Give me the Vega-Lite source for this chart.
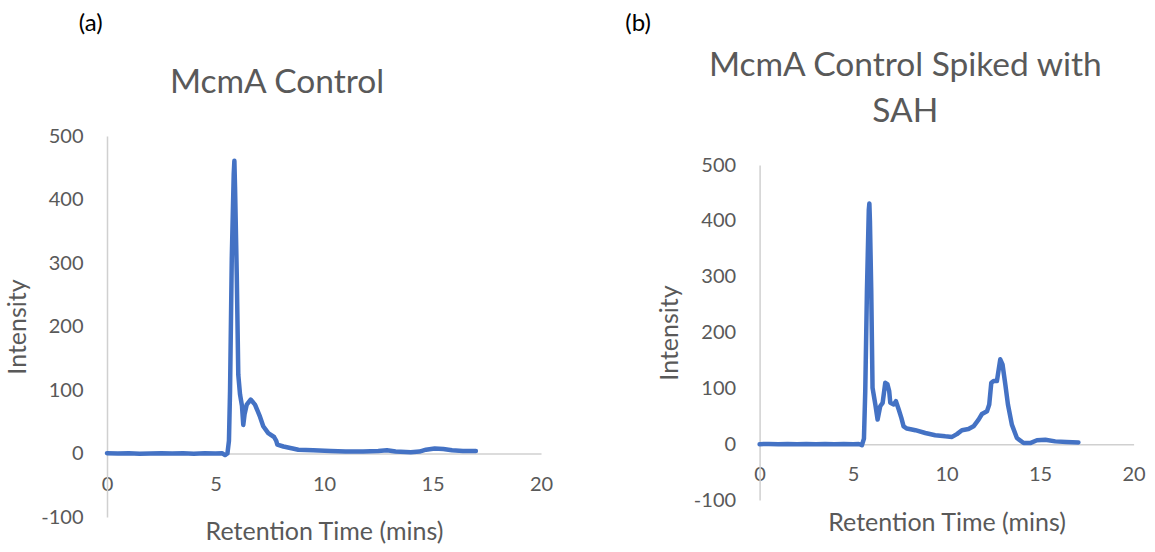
{
  "$schema": "https://vega.github.io/schema/vega-lite/v6.json",
  "background": "white",
  "padding": {"left": 5, "top": 11, "right": 5, "bottom": 5},
  "config": {
    "view": {"stroke": null},
    "font": "Lato",
    "axis": {
      "labelFont": "Lato", "titleFont": "Lato",
      "labelColor": "#595959", "titleColor": "#595959",
      "labelFontSize": 20, "titleFontSize": 25, "titleFontWeight": "normal",
      "domainColor": "#D0D0D0", "domainWidth": 1.5,
      "ticks": false, "grid": false, "labelFlush": false, "labelOverlap": false,
      "labelExpr": "'' + datum.value"
    },
    "title": {"font": "Lato", "fontSize": 33.5, "fontWeight": "normal", "color": "#595959"}
  },
  "datasets": {
    "a": [
      {"time": 0, "intensity": 0.5}, {"time": 0.5, "intensity": 0}, {"time": 1, "intensity": 0.3},
      {"time": 1.5, "intensity": -0.3}, {"time": 2, "intensity": 0}, {"time": 2.5, "intensity": 0.4},
      {"time": 3, "intensity": 0}, {"time": 3.5, "intensity": 0.3}, {"time": 4, "intensity": -0.2},
      {"time": 4.5, "intensity": 0.2}, {"time": 5, "intensity": 0}, {"time": 5.3, "intensity": 0.5},
      {"time": 5.44, "intensity": -2.5}, {"time": 5.55, "intensity": 0}, {"time": 5.62, "intensity": 20},
      {"time": 5.67, "intensity": 98}, {"time": 5.75, "intensity": 307}, {"time": 5.84, "intensity": 440},
      {"time": 5.87, "intensity": 461}, {"time": 5.9, "intensity": 420}, {"time": 5.98, "intensity": 281},
      {"time": 6.05, "intensity": 124}, {"time": 6.13, "intensity": 93}, {"time": 6.22, "intensity": 75},
      {"time": 6.28, "intensity": 45}, {"time": 6.34, "intensity": 62}, {"time": 6.44, "intensity": 77},
      {"time": 6.62, "intensity": 85}, {"time": 6.82, "intensity": 77}, {"time": 7.05, "intensity": 58},
      {"time": 7.2, "intensity": 43}, {"time": 7.43, "intensity": 32}, {"time": 7.7, "intensity": 26},
      {"time": 7.8, "intensity": 20}, {"time": 7.85, "intensity": 14}, {"time": 8.13, "intensity": 11},
      {"time": 8.82, "intensity": 6}, {"time": 9.5, "intensity": 5}, {"time": 10.3, "intensity": 4},
      {"time": 11, "intensity": 3}, {"time": 11.8, "intensity": 3}, {"time": 12.5, "intensity": 4},
      {"time": 12.9, "intensity": 5}, {"time": 13.3, "intensity": 3}, {"time": 14, "intensity": 2},
      {"time": 14.4, "intensity": 3}, {"time": 14.7, "intensity": 6}, {"time": 15.1, "intensity": 8},
      {"time": 15.5, "intensity": 7}, {"time": 15.9, "intensity": 5}, {"time": 16.4, "intensity": 4},
      {"time": 17, "intensity": 4}
    ],
    "b": [
      {"time": 0, "intensity": 0}, {"time": 0.5, "intensity": 0.3}, {"time": 1, "intensity": 0},
      {"time": 1.5, "intensity": 0.3}, {"time": 2, "intensity": -0.2}, {"time": 2.5, "intensity": 0.2},
      {"time": 3, "intensity": 0}, {"time": 3.5, "intensity": 0.3}, {"time": 4, "intensity": 0},
      {"time": 4.5, "intensity": 0.2}, {"time": 5, "intensity": 0}, {"time": 5.3, "intensity": 0.3},
      {"time": 5.47, "intensity": -2}, {"time": 5.58, "intensity": 10}, {"time": 5.65, "intensity": 95},
      {"time": 5.74, "intensity": 275}, {"time": 5.84, "intensity": 420}, {"time": 5.87, "intensity": 431},
      {"time": 5.9, "intensity": 400}, {"time": 5.97, "intensity": 275}, {"time": 6.04, "intensity": 101},
      {"time": 6.19, "intensity": 71}, {"time": 6.31, "intensity": 44}, {"time": 6.45, "intensity": 68},
      {"time": 6.58, "intensity": 74}, {"time": 6.72, "intensity": 110}, {"time": 6.84, "intensity": 107},
      {"time": 6.93, "intensity": 95}, {"time": 6.99, "intensity": 74}, {"time": 7.17, "intensity": 71},
      {"time": 7.29, "intensity": 77}, {"time": 7.44, "intensity": 62}, {"time": 7.58, "intensity": 47},
      {"time": 7.7, "intensity": 32}, {"time": 7.88, "intensity": 28}, {"time": 8.33, "intensity": 25},
      {"time": 8.86, "intensity": 20}, {"time": 9.39, "intensity": 16}, {"time": 9.93, "intensity": 14},
      {"time": 10.29, "intensity": 13}, {"time": 10.55, "intensity": 18}, {"time": 10.82, "intensity": 25},
      {"time": 11.17, "intensity": 27}, {"time": 11.44, "intensity": 32}, {"time": 11.71, "intensity": 44},
      {"time": 11.89, "intensity": 54}, {"time": 12.16, "intensity": 59}, {"time": 12.28, "intensity": 71},
      {"time": 12.39, "intensity": 110}, {"time": 12.51, "intensity": 113}, {"time": 12.69, "intensity": 113},
      {"time": 12.87, "intensity": 152}, {"time": 12.99, "intensity": 143}, {"time": 13.14, "intensity": 107},
      {"time": 13.28, "intensity": 71}, {"time": 13.49, "intensity": 35}, {"time": 13.76, "intensity": 11},
      {"time": 14.12, "intensity": 2}, {"time": 14.47, "intensity": 2}, {"time": 14.83, "intensity": 7},
      {"time": 15.28, "intensity": 8}, {"time": 15.81, "intensity": 5}, {"time": 16.4, "intensity": 4},
      {"time": 17.05, "intensity": 3}
    ]
  },
  "bounds": "flush",
  "spacing": 218.6,
  "hconcat": [
    {
      "width": 434,
      "height": 381,
      "title": {"text": "McmA Control", "anchor": "middle", "frame": "group", "dx": -47, "offset": -88},
      "layer": [
        {
          "data": {"name": "a"},
          "mark": {"type": "line", "color": "#4472C4", "strokeWidth": 4.5, "strokeJoin": "round", "strokeCap": "round"},
          "encoding": {
            "x": {
              "field": "time", "type": "quantitative",
              "scale": {"domain": [0, 20], "nice": false, "zero": false},
              "axis": {"values": [0, 5, 10, 15, 20], "title": "Retention Time (mins)", "offset": -63.5, "labelPadding": 20.5, "titlePadding": 25.5}
            },
            "y": {
              "field": "intensity", "type": "quantitative",
              "scale": {"domain": [-100, 500], "nice": false, "zero": false},
              "axis": {"values": [-100, 0, 100, 200, 300, 400, 500], "title": "Intensity", "labelPadding": 24, "titlePadding": 10.7}
            }
          }
        },
        {
          "data": {"values": [{"label": "(a)"}]},
          "mark": {"type": "text", "font": "Lato", "fontSize": 24, "color": "black", "align": "center", "baseline": "middle"},
          "encoding": {
            "x": {"datum": -0.75, "type": "quantitative"},
            "y": {"datum": 676, "type": "quantitative"},
            "text": {"field": "label"}
          }
        }
      ]
    },
    {
      "width": 374,
      "height": 364,
      "title": {"text": ["McmA Control Spiked with", "SAH"], "lineHeight": 46, "anchor": "middle", "frame": "group", "dx": -41.3, "offset": -118},
      "layer": [
        {
          "data": {"name": "b"},
          "mark": {"type": "line", "color": "#4472C4", "strokeWidth": 4.5, "strokeJoin": "round", "strokeCap": "round"},
          "encoding": {
            "x": {
              "field": "time", "type": "quantitative",
              "scale": {"domain": [0, 20], "nice": false, "zero": false},
              "axis": {"values": [0, 5, 10, 15, 20], "title": "Retention Time (mins)", "offset": -55.8, "labelPadding": 20.5, "titlePadding": 25.5}
            },
            "y": {
              "field": "intensity", "type": "quantitative",
              "scale": {"domain": [-100, 500], "range": [364, 29], "nice": false, "zero": false},
              "axis": {"values": [-100, 0, 100, 200, 300, 400, 500], "title": "Intensity", "labelPadding": 24, "titlePadding": 10.7}
            }
          }
        },
        {
          "data": {"values": [{"label": "(b)"}]},
          "mark": {"type": "text", "font": "Lato", "fontSize": 24, "color": "black", "align": "center", "baseline": "middle"},
          "encoding": {
            "x": {"datum": -6.5, "type": "quantitative"},
            "y": {"datum": 752.6, "type": "quantitative"},
            "text": {"field": "label"}
          }
        }
      ]
    }
  ]
}
